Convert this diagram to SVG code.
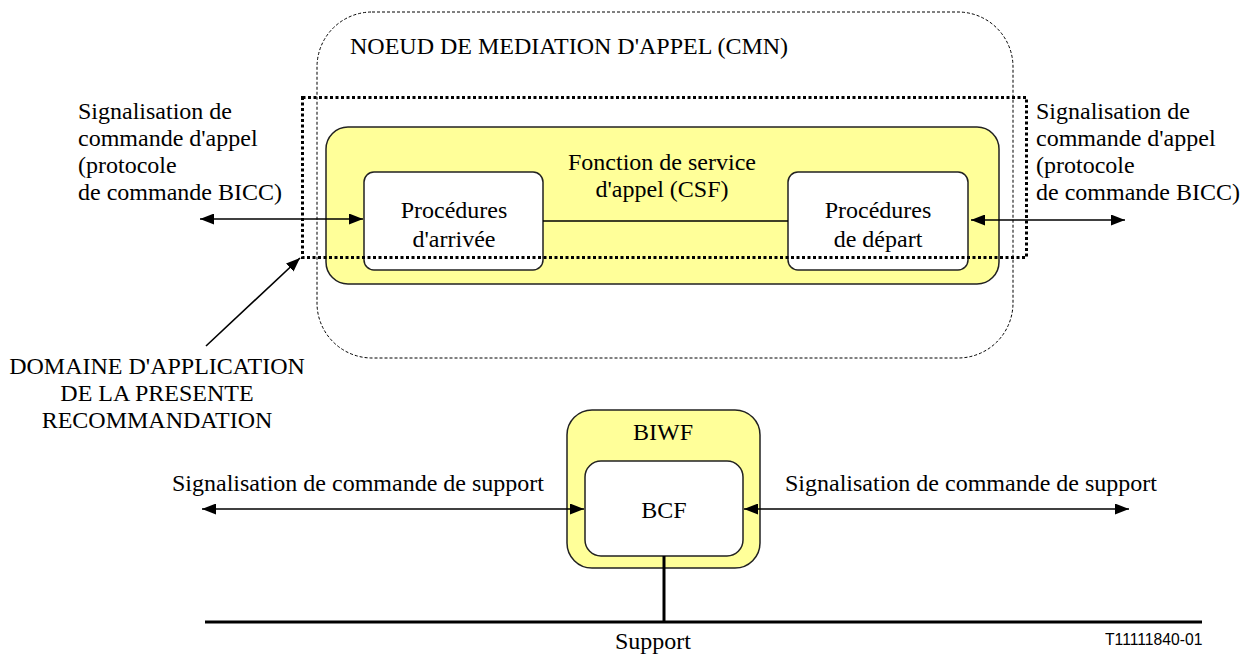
<svg xmlns="http://www.w3.org/2000/svg" width="1249" height="657" viewBox="0 0 1249 657">
<defs>
<style>
text{font-family:"Liberation Serif","Times New Roman",serif;font-size:24px;fill:#000}
.c{text-anchor:middle}
.yel{fill:#FFFF99;stroke:#222;stroke-width:1.5}
.wht{fill:#fff;stroke:#222;stroke-width:1.5}
.ln{stroke:#000;stroke-width:1.6;fill:none}
.thick{stroke:#000;stroke-width:3;fill:none}
</style>
<marker id="ah" viewBox="0 0 14 11" refX="14" refY="5.5" markerWidth="14" markerHeight="11" markerUnits="userSpaceOnUse" orient="auto-start-reverse">
<path d="M0,0 L14,5.5 L0,11 Z" fill="#000"/>
</marker>
</defs>
<rect width="1249" height="657" fill="#fff"/>
<g id="cmn">
<rect x="317" y="12" width="696" height="346" rx="55" ry="55" fill="none" stroke="#000" stroke-width="1" stroke-dasharray="3,2"/>
<text x="350" y="54">NOEUD DE MEDIATION D'APPEL (CMN)</text>
</g>
<g id="csf">
<rect class="yel" x="326" y="127" width="673" height="157" rx="22"/>
<text class="c" x="662" y="170">Fonction de service</text>
<text class="c" x="662" y="197">d'appel (CSF)</text>
</g>
<g id="arrivee">
<rect class="wht" x="364" y="172" width="179" height="98" rx="10"/>
<text class="c" x="454" y="218">Procédures</text>
<text class="c" x="454" y="247">d'arrivée</text>
</g>
<g id="depart">
<rect class="wht" x="788" y="172" width="180" height="98" rx="10"/>
<text class="c" x="878" y="218">Procédures</text>
<text class="c" x="878" y="247">de départ</text>
</g>
<g id="domaine">
<rect x="302.5" y="97.5" width="724" height="160" fill="none" stroke="#000" stroke-width="3" stroke-dasharray="3,2.5"/>
<text class="c" x="157" y="374">DOMAINE D'APPLICATION</text>
<text class="c" x="157" y="401">DE LA PRESENTE</text>
<text class="c" x="157" y="428">RECOMMANDATION</text>
</g>
<g id="biwf">
<rect class="yel" x="567" y="410" width="193" height="158" rx="25"/>
<text class="c" x="663" y="440">BIWF</text>
</g>
<g id="bcf">
<rect class="wht" x="585" y="461" width="158" height="95" rx="16"/>
<text class="c" x="664" y="518">BCF</text>
</g>
<g id="labels">
<text x="78" y="119">Signalisation de</text>
<text x="78" y="146">commande d'appel</text>
<text x="78" y="173">(protocole</text>
<text x="78" y="200">de commande BICC)</text>
<text x="1036" y="119">Signalisation de</text>
<text x="1036" y="146">commande d'appel</text>
<text x="1036" y="173">(protocole</text>
<text x="1036" y="200">de commande BICC)</text>
<text x="172" y="491">Signalisation de commande de support</text>
<text x="785" y="491">Signalisation de commande de support</text>
<text class="c" x="653" y="649">Support</text>
<text x="1105" y="645" style="font-family:'Liberation Sans',Arial,sans-serif;font-size:15.7px">T11111840-01</text>
</g>
<g id="connectors">
<line class="ln" x1="200" y1="219" x2="363" y2="219" marker-start="url(#ah)" marker-end="url(#ah)"/>
<line class="ln" x1="543" y1="221" x2="788" y2="221"/>
<line class="ln" x1="971" y1="220" x2="1125" y2="220" marker-start="url(#ah)" marker-end="url(#ah)"/>
<line class="ln" x1="206" y1="346" x2="300" y2="258" marker-end="url(#ah)"/>
<line class="ln" x1="202" y1="509" x2="584" y2="509" marker-start="url(#ah)" marker-end="url(#ah)"/>
<line class="ln" x1="744" y1="509" x2="1129" y2="509" marker-start="url(#ah)" marker-end="url(#ah)"/>
<line class="thick" x1="664" y1="556" x2="664" y2="622"/>
<line class="thick" x1="205" y1="622" x2="1202" y2="622"/>
</g>
</svg>
